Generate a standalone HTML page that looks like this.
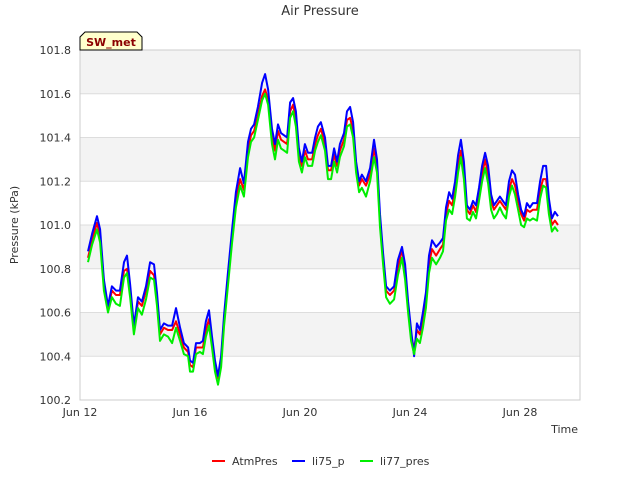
<!DOCTYPE html>
<html><head><meta charset="utf-8"><style>body{margin:0;background:#fff}svg{display:block;font-family:"DejaVu Sans","Liberation Sans",sans-serif}</style></head>
<body>
<svg id="c" width="640" height="480">
<text x="320" y="15" text-anchor="middle" font-size="13" fill="#333">Air Pressure</text>
<g id="bands"></g>
<g id="grid"></g>
<rect x="80" y="50" width="500" height="350" fill="none" stroke="#ccc"/>
<g id="yt"></g><g id="xt"></g>
<text transform="translate(18,225) rotate(-90)" text-anchor="middle" font-size="11" fill="#333">Pressure (kPa)</text>
<text x="578" y="433" text-anchor="end" font-size="11" fill="#333">Time</text>
<g id="series"></g>
<g><path d="M80,50 L80,37 L85,32 L137,32 L142,37 L142,50 Z" fill="#ffffcc" stroke="#000"/>
<text x="111" y="46" text-anchor="middle" font-size="11" font-weight="bold" fill="#8b0000">SW_met</text></g>
<g id="legend" font-size="11" fill="#333"></g>
</svg>
<script>
const times=[12.29,12.44,12.62,12.73,12.87,13.02,13.16,13.31,13.45,13.60,13.71,13.82,13.96,14.11,14.25,14.40,14.55,14.69,14.80,14.91,15.05,15.20,15.35,15.49,15.64,15.78,15.93,16.00,16.11,16.22,16.36,16.47,16.58,16.69,16.80,16.91,17.02,17.13,17.24,17.38,17.53,17.67,17.82,17.96,18.11,18.22,18.33,18.47,18.62,18.73,18.84,18.98,19.09,19.20,19.31,19.42,19.53,19.64,19.75,19.85,19.96,20.07,20.18,20.29,20.44,20.55,20.65,20.76,20.91,21.02,21.13,21.24,21.35,21.45,21.60,21.71,21.82,21.93,22.04,22.15,22.25,22.40,22.55,22.69,22.80,22.91,23.02,23.13,23.27,23.42,23.56,23.71,23.82,23.93,24.04,24.15,24.25,24.36,24.47,24.58,24.69,24.80,24.95,25.09,25.20,25.31,25.42,25.53,25.64,25.75,25.85,25.96,26.07,26.18,26.29,26.40,26.51,26.62,26.73,26.84,26.95,27.05,27.16,27.27,27.38,27.49,27.60,27.71,27.82,27.93,28.04,28.15,28.25,28.36,28.47,28.62,28.73,28.84,28.95,29.05,29.16,29.27,29.38];
const atmPres=[100.85,100.93,101.01,100.95,100.73,100.61,100.70,100.68,100.68,100.79,100.80,100.70,100.52,100.65,100.63,100.70,100.79,100.77,100.66,100.50,100.53,100.52,100.52,100.56,100.50,100.44,100.42,100.36,100.35,100.44,100.44,100.44,100.52,100.57,100.47,100.36,100.30,100.38,100.57,100.75,100.95,101.11,101.21,101.16,101.34,101.41,101.43,101.50,101.59,101.62,101.57,101.41,101.34,101.43,101.39,101.38,101.37,101.52,101.55,101.48,101.32,101.27,101.34,101.30,101.30,101.37,101.41,101.44,101.37,101.25,101.25,101.32,101.27,101.34,101.39,101.48,101.49,101.43,101.27,101.18,101.21,101.18,101.23,101.35,101.27,101.02,100.85,100.70,100.68,100.70,100.80,100.89,100.79,100.63,100.50,100.43,100.52,100.50,100.57,100.66,100.82,100.89,100.86,100.89,100.91,101.05,101.11,101.09,101.16,101.27,101.34,101.25,101.07,101.05,101.09,101.06,101.14,101.23,101.30,101.23,101.11,101.07,101.09,101.11,101.09,101.07,101.16,101.21,101.18,101.11,101.05,101.02,101.07,101.06,101.07,101.07,101.16,101.21,101.21,101.09,101.00,101.02,101.00];
const li75p=[100.88,100.96,101.04,100.98,100.75,100.63,100.72,100.70,100.70,100.83,100.86,100.73,100.54,100.67,100.65,100.72,100.83,100.82,100.69,100.52,100.55,100.54,100.54,100.62,100.53,100.46,100.44,100.38,100.37,100.46,100.46,100.47,100.56,100.61,100.49,100.38,100.31,100.40,100.59,100.78,100.98,101.15,101.26,101.19,101.38,101.44,101.46,101.54,101.65,101.69,101.62,101.44,101.37,101.46,101.42,101.41,101.40,101.56,101.58,101.52,101.35,101.29,101.37,101.33,101.33,101.40,101.45,101.47,101.40,101.27,101.27,101.35,101.29,101.37,101.42,101.52,101.54,101.47,101.29,101.20,101.23,101.20,101.26,101.39,101.30,101.05,100.87,100.72,100.70,100.72,100.84,100.90,100.82,100.65,100.52,100.40,100.55,100.52,100.60,100.69,100.86,100.93,100.90,100.92,100.94,101.08,101.15,101.12,101.20,101.32,101.39,101.29,101.09,101.07,101.11,101.09,101.17,101.27,101.33,101.27,101.14,101.09,101.11,101.13,101.11,101.09,101.20,101.25,101.23,101.14,101.07,101.04,101.10,101.08,101.10,101.10,101.20,101.27,101.27,101.12,101.03,101.06,101.04];
const li77pres=[100.83,100.91,100.98,100.92,100.70,100.60,100.67,100.64,100.63,100.76,100.78,100.67,100.50,100.62,100.59,100.66,100.76,100.75,100.63,100.47,100.50,100.49,100.46,100.53,100.47,100.41,100.40,100.33,100.33,100.41,100.42,100.41,100.49,100.54,100.44,100.33,100.27,100.35,100.54,100.72,100.92,101.08,101.18,101.13,101.31,101.38,101.40,101.48,101.57,101.60,101.55,101.37,101.30,101.39,101.35,101.34,101.33,101.49,101.52,101.45,101.29,101.24,101.31,101.27,101.27,101.34,101.38,101.41,101.34,101.21,101.21,101.29,101.24,101.31,101.36,101.45,101.46,101.40,101.24,101.15,101.17,101.13,101.20,101.31,101.24,100.99,100.82,100.67,100.64,100.66,100.77,100.85,100.75,100.60,100.47,100.41,100.48,100.46,100.53,100.62,100.78,100.85,100.82,100.85,100.88,101.02,101.07,101.05,101.13,101.24,101.31,101.21,101.03,101.02,101.06,101.03,101.11,101.20,101.26,101.19,101.07,101.03,101.05,101.08,101.05,101.03,101.13,101.18,101.14,101.07,101.00,100.99,101.03,101.02,101.03,101.02,101.12,101.18,101.17,101.05,100.97,100.99,100.97];
const yTicks=[100.2,100.4,100.6,100.8,101.0,101.2,101.4,101.6,101.8];
const xTickDays=[12,16,20,24,28];
const xTickLabels=["Jun 12","Jun 16","Jun 20","Jun 24","Jun 28"];
const NS='http://www.w3.org/2000/svg';
const X=d=>80+(d-12)*27.5, Y=v=>400-(v-100.2)*218.75;
function mk(t,a,p){const e=document.createElementNS(NS,t);for(const k in a)e.setAttribute(k,a[k]);document.getElementById(p).appendChild(e);return e;}
for(let i=0;i<yTicks.length-1;i++){if(i%2==1){const r=mk('rect',{x:80,y:Y(yTicks[i+1]),width:500,height:Y(yTicks[i])-Y(yTicks[i+1]),fill:'#f3f3f3'},'bands');

}}
yTicks.forEach(v=>{const l=mk('line',{x1:80,x2:580,y1:Y(v),y2:Y(v),stroke:'#ddd'},'grid');


const t=mk('text',{x:71,y:Y(v)+4,'text-anchor':'end','font-size':11,fill:'#333'},'yt');t.textContent=v.toFixed(1);

});
xTickDays.forEach((d,i)=>{const t=mk('text',{x:X(d),y:416,'text-anchor':'middle','font-size':11,fill:'#333'},'xt');t.textContent=xTickLabels[i];

});
const series=[['AtmPres',atmPres,'#ff0000'],['li75_p',li75p,'#0000ff'],['li77_pres',li77pres,'#00ee00']];
series.forEach(([n,vals,c])=>{const p=mk('polyline',{points:vals.map((v,i)=>X(times[i]).toFixed(1)+','+Y(v).toFixed(1)).join(' '),fill:'none',stroke:c,'stroke-width':2,'stroke-linejoin':'round'},'series');

});
const lx=[212,292,360];
series.forEach(([n,vals,c],i)=>{const l=mk('line',{x1:lx[i],x2:lx[i]+13,y1:461,y2:461,stroke:c,'stroke-width':2},'legend');


const t=mk('text',{x:lx[i]+20,y:465},'legend');t.textContent=n;

});
</script>
</body></html>
